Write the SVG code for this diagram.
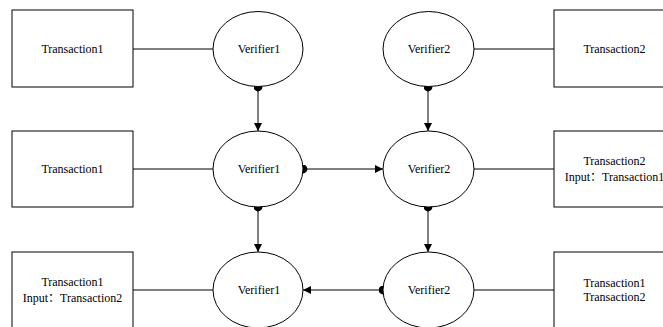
<svg xmlns="http://www.w3.org/2000/svg" width="663" height="327" viewBox="0 0 663 327">
<style>
.box{fill:#fff;stroke:#000;stroke-width:1}
.ell{fill:#fff;stroke:#000;stroke-width:1}
.ln{stroke:#000;stroke-width:1;fill:none}
.arr{stroke:#000;stroke-width:1;fill:none;marker-start:url(#dot);marker-end:url(#head)}
.t{font-family:'Liberation Serif','Times New Roman',serif;font-size:12px;text-anchor:middle;fill:#000}
.c{font-family:'Noto Sans CJK SC',sans-serif}
</style>
<defs>
<marker id="head" markerUnits="userSpaceOnUse" markerWidth="9" markerHeight="9" refX="8" refY="4" orient="auto" viewBox="0 0 9 8">
<path d="M0,0 L8,4 L0,8 z" fill="#000"/>
</marker>
<marker id="dot" markerUnits="userSpaceOnUse" markerWidth="9" markerHeight="9" refX="4.5" refY="4.5" viewBox="0 0 9 9">
<circle cx="4.5" cy="4.5" r="4.4" fill="#000"/>
</marker>
</defs>
<rect width="663" height="327" fill="#fff"/>
<g id="connectors">
<line class="ln" x1="133" y1="49" x2="213" y2="49"/>
<line class="ln" x1="474" y1="49" x2="554" y2="49"/>
<line class="ln" x1="133" y1="169" x2="213" y2="169"/>
<line class="ln" x1="474" y1="169" x2="554" y2="169"/>
<line class="ln" x1="133" y1="290" x2="213" y2="290"/>
<line class="ln" x1="474" y1="290" x2="554" y2="290"/>
<path class="arr" d="M258,87 L258,131"/>
<path class="arr" d="M428,87 L428,131"/>
<path class="arr" d="M303,169 L383,169"/>
<path class="arr" d="M258,207 L258,252"/>
<path class="arr" d="M428,207 L428,252"/>
<path class="arr" d="M383,290 L303,290"/>
</g>
<g id="tx1_r1"><rect class="box" x="12" y="10" width="121" height="77"/><text class="t" x="72.5" y="53">Transaction1</text></g>
<g id="v1_r1"><ellipse class="ell" cx="258" cy="49" rx="45" ry="37.5"/><text class="t" x="259" y="53">Verifier1</text></g>
<g id="v2_r1"><ellipse class="ell" cx="428.5" cy="49" rx="45.5" ry="37.5"/><text class="t" x="429" y="53">Verifier2</text></g>
<g id="tx2_r1"><rect class="box" x="554" y="10" width="121" height="77"/><text class="t" x="614.5" y="53">Transaction2</text></g>
<g id="tx1_r2"><rect class="box" x="12" y="131" width="121" height="76"/><text class="t" x="72.5" y="173">Transaction1</text></g>
<g id="v1_r2"><ellipse class="ell" cx="258" cy="169" rx="45" ry="38"/><text class="t" x="259" y="173">Verifier1</text></g>
<g id="v2_r2"><ellipse class="ell" cx="428.5" cy="169" rx="45.5" ry="38"/><text class="t" x="429" y="173">Verifier2</text></g>
<g id="tx2_r2"><rect class="box" x="554" y="131" width="121" height="76"/><text class="t" x="614.5" y="165">Transaction2</text><text class="t" x="614.5" y="181">Input<tspan class="c">：</tspan>Transaction1</text></g>
<g id="tx1_r3"><rect class="box" x="12" y="252" width="121" height="80"/><text class="t" x="72.5" y="286">Transaction1</text><text class="t" x="72.5" y="302">Input<tspan class="c">：</tspan>Transaction2</text></g>
<g id="v1_r3"><ellipse class="ell" cx="258" cy="290" rx="45" ry="38"/><text class="t" x="259" y="294">Verifier1</text></g>
<g id="v2_r3"><ellipse class="ell" cx="428.5" cy="290" rx="45.5" ry="38"/><text class="t" x="429" y="294">Verifier2</text></g>
<g id="tx12_r3"><rect class="box" x="554" y="252" width="121" height="80"/><text class="t" x="614.5" y="287">Transaction1</text><text class="t" x="614.5" y="301">Transaction2</text></g>
</svg>
